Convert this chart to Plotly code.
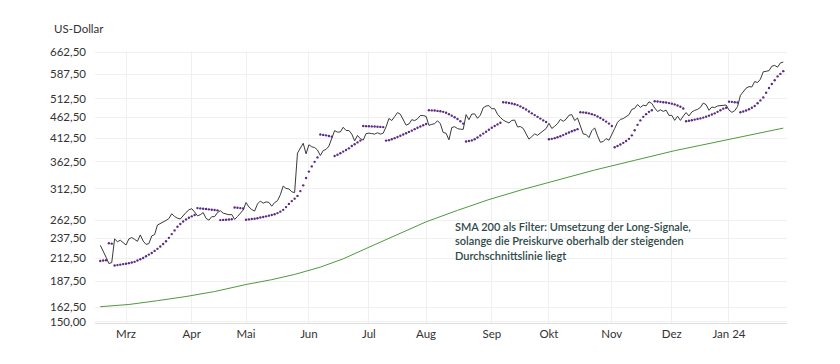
import math
import plotly.graph_objects as go

# Trading-day index (0 = 15 Feb 2023) ... 239 = 30 Jan 2024
close = [
    228.4, 220.0, 214.0, 206.6, 207.6, 236.6, 233.0, 234.9, 232.2,
    228.8, 236.6, 238.4, 236.0, 233.5, 241.9, 233.8, 229.6, 230.5, 240.6, 242.3, 255.4, 257.2, 259.0, 262.0, 264.7, 271.9, 267.8, 265.3, 264.1, 269.8, 273.8, 277.8,
    279.6, 274.5, 268.8, 270.4, 273.6, 265.1, 262.4, 267.5, 267.6, 273.6, 276.5, 272.7, 271.3, 270.4, 270.7, 263.5, 267.7, 272.3, 277.5,
    289.2, 282.2, 278.2, 275.9, 286.9, 291.5, 288.2, 290.2, 289.5, 283.4, 289.1, 292.1, 301.8, 316.8, 312.6, 311.8, 306.9, 305.4, 379.8, 389.5, 401.1, 378.3,
    397.7, 393.3, 391.7, 386.5, 374.8, 385.1, 387.7, 394.8, 410.2, 430.0, 426.5, 426.9, 438.1, 430.3, 430.3, 422.1, 406.3, 418.8, 411.2, 408.2, 423.0,
    424.1, 423.0, 421.8, 425.0, 421.8, 424.0, 439.0, 459.8, 454.7, 464.6, 474.9, 470.8, 455.2, 443.1, 446.1, 456.8, 454.5, 459.0, 467.5, 467.3,
    465.1, 442.7, 445.2, 446.8, 454.2, 446.6, 425.5, 423.9, 408.6, 437.5, 439.4, 434.9, 433.4, 433.0, 469.7, 456.7, 471.2, 471.6, 460.2, 468.4, 487.8, 492.6, 493.6,
    485.1, 485.5, 470.6, 462.4, 455.7, 451.8, 448.7, 454.9, 455.8, 439.0, 439.7, 435.2, 422.4, 410.2, 416.1, 422.2, 419.1, 424.7, 430.9, 435.0,
    447.8, 435.2, 440.4, 446.9, 457.6, 452.7, 458.0, 468.1, 469.5, 454.6, 461.0, 439.4, 422.0, 421.0, 413.9, 429.8, 436.6, 417.8, 403.3, 405.0, 411.6, 407.8,
    423.3, 435.1, 450.1, 457.5, 459.6, 465.7, 469.5, 483.4, 486.2, 496.6, 488.9, 494.8, 493.0, 504.1, 499.4, 487.2, 477.8, 482.4, 478.2, 481.4, 467.7,
    467.7, 455.1, 465.7, 455.0, 466.0, 475.1, 466.3, 476.6, 480.9, 483.5, 488.9, 500.8, 496.0, 481.1, 489.9, 488.3, 492.8, 494.2, 495.2, 495.2,
    481.7, 475.7, 480.0, 491.0, 522.5, 531.4, 543.5, 548.2, 547.1, 563.8, 560.5, 571.1, 594.9, 596.5, 598.7, 613.6, 616.2, 610.3, 624.7, 627.7,
]

sar = [
    209.5, 210.0, 210.3,
    231.0, 230.5,
    204.3, 204.8, 205.3, 205.9, 206.4, 207.0, 207.7, 208.5, 210.0, 211.5, 213.0, 215.0, 217.0, 219.0, 221.5,
    224.0, 227.0, 230.0, 233.5, 238.0, 243.0, 248.0, 253.0, 257.0, 260.5, 263.5, 266.0, 268.0, 270.0,
    280.5, 280.0, 279.5, 279.0, 278.5, 278.0, 277.5, 277.0,
    262.5, 262.8, 263.1, 263.4, 263.7,
    281.5, 281.0, 280.5, 280.0,
    263.0, 263.5, 264.0, 264.5, 265.3, 266.2, 267.1, 268.0, 269.0, 270.0, 271.2, 272.8, 275.0, 277.8,
    282.0, 287.0, 291.5, 295.5, 300.0, 308.0, 318.0, 331.0, 343.0, 353.0, 362.0, 371.0,
    421.0, 420.0, 419.0, 417.5, 416.0,
    374.0, 376.5, 379.5, 383.0, 386.5, 390.0, 395.0, 399.0, 403.0, 407.0,
    441.0, 440.8, 440.5, 440.2, 439.8, 439.4, 439.0, 438.5,
    407.0, 408.0, 410.0, 412.5, 415.0, 418.0, 421.0, 424.0, 427.0, 430.0, 433.5, 437.0, 440.0, 443.0, 446.0,
    481.0, 480.8, 480.5, 479.5, 478.5, 477.0, 474.5, 471.0, 467.0, 463.0, 458.5, 453.0, 447.0,
    405.0, 406.0, 407.5, 410.0, 414.0, 418.5, 423.0, 427.5, 432.0, 437.0, 441.0, 445.0, 449.0,
    502.7, 502.0, 501.0, 499.5, 497.5, 495.0, 491.5, 487.5, 483.0, 478.0, 473.0, 468.5, 464.0, 459.5, 455.0, 451.0,
    410.0, 411.0, 412.5, 414.5, 417.0, 419.5, 422.5, 425.5, 428.5, 431.0, 433.5,
    476.0, 475.5, 474.5, 473.0, 471.0, 468.5, 465.0, 461.0, 456.5, 452.0, 447.0, 441.0,
    392.3, 395.0, 398.5, 402.0, 406.0, 411.0, 419.0, 431.0, 444.0, 455.0, 464.0, 471.0, 477.0, 481.0,
    505.5, 505.0, 504.0, 503.0, 502.0, 500.5, 499.0, 497.0, 494.0, 490.5, 486.0,
    453.0, 454.0, 455.5, 457.0, 458.5, 460.0, 462.0, 464.5, 467.0, 470.0, 473.0, 477.0, 481.0, 485.5, 488.0,
    504.5, 504.0, 503.0, 502.0,
    476.0, 478.0, 480.5, 484.0, 488.0, 492.5, 500.0, 508.0, 516.5, 530.0, 544.0, 556.0, 568.0, 580.0, 588.0, 597.0,
]

sma_idx = [0, 10, 20, 30, 40, 51, 60, 68, 77, 85, 94, 105, 114, 125, 136, 148, 160, 173, 187, 201, 210, 219, 230, 239]
sma_val = [162.8, 164.8, 168.3, 172.2, 177.0, 184.0, 189.0, 194.5, 202.5, 212.0, 226.0, 244.0, 260.0, 277.0, 294.0,
           311.0, 327.0, 346.0, 365.0, 385.0, 396.5, 408.5, 422.0, 436.0]

month_idx = [9, 32, 51, 73, 94, 114, 137, 157, 179, 200, 220]
month_lbl = ["Mrz", "Apr", "Mai", "Jun", "Jul", "Aug", "Sep", "Okt", "Nov", "Dez", "Jan 24"]

y_ticks = [150, 162.5, 187.5, 212.5, 237.5, 262.5, 312.5, 362.5, 412.5, 462.5, 512.5, 587.5, 662.5]
y_text = ["150,00", "162,50", "187,50", "212,50", "237,50", "262,50", "312,50", "362,50",
          "412,50", "462,50", "512,50", "587,50", "662,50"]

assert len(close) == 240, len(close)
assert len(sar) == 240, len(sar)
days = list(range(len(close)))

FONT = "Lato"

fig = go.Figure()
fig.add_trace(go.Scatter(x=sma_idx, y=sma_val, mode="lines",
                         line=dict(color="#4f9a3c", width=1), hoverinfo="skip"))
fig.add_trace(go.Scatter(x=days, y=close, mode="lines",
                         line=dict(color="#3a3a3a", width=1)))
fig.add_trace(go.Scatter(x=days, y=sar, mode="markers",
                         marker=dict(color="#5b2c83", size=2.4, line=dict(width=0))))

ymin = math.log10(148.8)
ymax = ymin + 272 / 417.4

fig.update_layout(
    width=840, height=364,
    margin=dict(l=95, r=53, t=51, b=41),
    paper_bgcolor="white", plot_bgcolor="white",
    showlegend=False,
    font=dict(family=FONT, size=11.5, color="#333333"),
    xaxis=dict(
        range=[-1.855, 240.3],
        tickmode="array", tickvals=month_idx, ticktext=month_lbl,
        showgrid=True, gridcolor="#f0f0f0", gridwidth=1,
        showline=True, linecolor="#dddddd", linewidth=1,
        ticks="", zeroline=False,
        tickfont=dict(family=FONT, size=11.5, color="#333333"),
    ),
    yaxis=dict(
        type="log", range=[ymin, ymax],
        tickmode="array", tickvals=y_ticks, ticktext=y_text,
        showgrid=True, gridcolor="#f0f0f0", gridwidth=1,
        showline=False, ticks="", zeroline=False,
        ticklabelstandoff=8,
        tickfont=dict(family=FONT, size=11.5, color="#333333"),
    ),
    annotations=[
        dict(text="US-Dollar", xref="paper", yref="paper", x=-0.0618, y=1.083,
             xanchor="left", yanchor="middle", showarrow=False,
             font=dict(family=FONT, size=11.5, color="#333333")),
        dict(text="SMA 200 als Filter: Umsetzung der Long-Signale,<br>solange die Preiskurve oberhalb der steigenden<br>Durchschnittslinie liegt",
             xref="paper", yref="paper", x=0.5177, y=0.303, xanchor="left", yanchor="middle",
             align="left", showarrow=False,
             font=dict(family=FONT, size=11, color="#2f4a4a", weight=600)),
    ],
)

fig.write_html("out.html", config={"displayModeBar": False},
               post_script="document.body.style.margin='0';document.body.style.overflow='hidden';")
